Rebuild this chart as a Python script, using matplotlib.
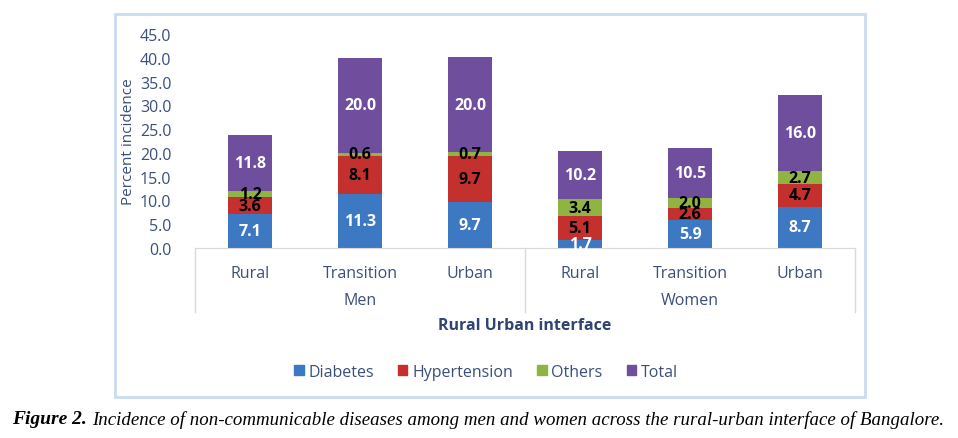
import numpy as np
import matplotlib.pyplot as plt
from matplotlib.patches import Rectangle, Patch

# data
categories = ["Rural", "Transition", "Urban", "Rural", "Transition", "Urban"]
groups = ["Men", "Women"]
diabetes = [7.1, 11.3, 9.7, 1.7, 5.9, 8.7]
hypertension = [3.6, 8.1, 9.7, 5.1, 2.6, 4.7]
others = [1.2, 0.6, 0.7, 3.4, 2.0, 2.7]
total = [11.8, 20.0, 20.0, 10.2, 10.5, 16.0]
series_names = ["Diabetes", "Hypertension", "Others", "Total"]
yticks = np.arange(0, 46, 5)

colors = ["#3D78C2", "#C4302D", "#8FB441", "#6F4E9E"]
label_colors = ["white", "black", "black", "white"]
txt_col = "#3A4F7A"

plt.rcParams['font.family'] = ['Open Sans', 'DejaVu Sans']

W, H = 958, 439
fig = plt.figure(figsize=(W / 100, H / 100), dpi=100)
ax = fig.add_axes([195 / W, 1 - 249 / H, 660 / W, 214 / H])

x = np.arange(len(categories))
bottom = np.zeros(len(categories))
for vals, name, c, lc in zip([diabetes, hypertension, others, total], series_names, colors, label_colors):
    bars = ax.bar(x, vals, 0.4, bottom=bottom, color=c, label=name)
    ax.bar_label(bars, labels=["%.1f" % v for v in vals], label_type='center',
                 color=lc, fontsize=11.5, fontweight='bold')
    bottom += np.array(vals)

ax.set_xlim(-0.5, 5.5)
ax.set_ylim(0, 45)
ax.set_yticks(yticks)
ax.set_yticklabels(["%.1f" % v for v in yticks])
ax.tick_params(axis='y', length=0, pad=17, labelsize=11.5, labelcolor=txt_col)
ax.set_xticks(x)
ax.set_xticklabels(categories)
ax.tick_params(axis='x', length=0, pad=12, labelsize=11.5, labelcolor=txt_col)
for s in ['top', 'right', 'left']:
    ax.spines[s].set_visible(False)
ax.spines['bottom'].set_color('#D9D9D9')

# group separators and group labels
for xa in [0, 0.5, 1]:
    ax.plot([xa, xa], [0, -0.3], transform=ax.transAxes, color='#D9D9D9',
            lw=1, clip_on=False)
for i, g in enumerate(groups):
    ax.text(x[i * 3:(i + 1) * 3].mean(), -0.245, g, transform=ax.get_xaxis_transform(),
            ha='center', va='center', fontsize=11.5, color=txt_col)

ax.set_ylabel("Percent incidence", fontsize=11, color=txt_col)
ax.yaxis.set_label_coords(-0.09, 0.5)
fig.text(525 / W, 1 - 326 / H, "Rural Urban interface", ha='center', va='center',
         fontsize=11.5, fontweight='bold', color='#2F4470')

handles = [Patch(color=c, label=n) for c, n in zip(colors, series_names)]
fig.legend(handles=handles, loc='center', bbox_to_anchor=(486 / W, 1 - 373 / H),
           ncol=4, frameon=False, fontsize=11.5, handlelength=0.6, handleheight=0.6,
           handletextpad=0.3, columnspacing=1.5, labelcolor=txt_col)

fig.add_artist(Rectangle((115 / W, 1 - 398 / H), 750 / W, 383 / H, transform=fig.transFigure,
                         fill=False, ec='#C9DCEE', lw=2))

fig.text(12 / W, 1 - 420 / H, "Figure 2.", fontsize=14, fontweight='bold', fontstyle='italic',
         family='Liberation Serif', va='center', ha='left')
fig.text(92 / W, 1 - 420 / H,
         "Incidence of non-communicable diseases among men and women across the rural-urban interface of Bangalore.",
         fontsize=13.6, fontstyle='italic', family='Liberation Serif', va='center', ha='left')

fig.savefig("out.png", dpi=100)
